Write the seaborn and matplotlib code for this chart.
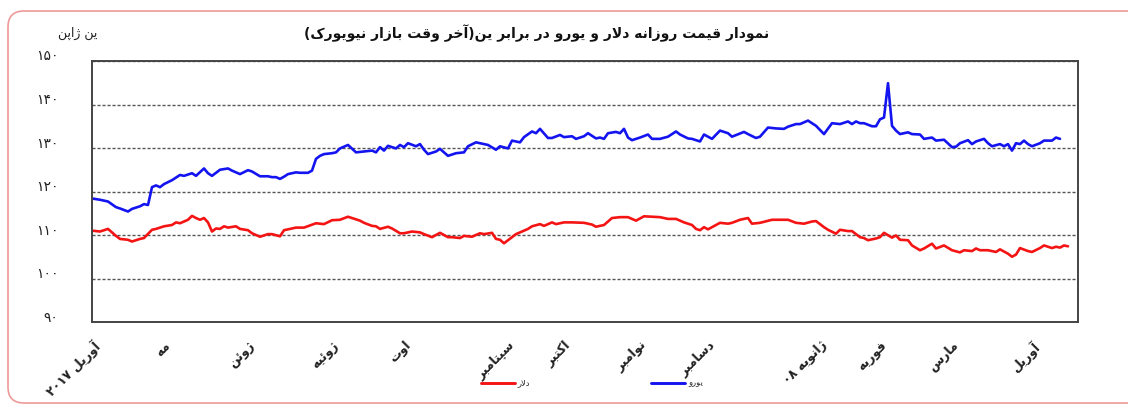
import numpy as np
import pandas as pd
import matplotlib
matplotlib.use("Agg")
import matplotlib.pyplot as plt
import seaborn as sns
from matplotlib.patches import FancyBboxPatch
from matplotlib.lines import Line2D
from matplotlib.transforms import ScaledTranslation

# ---------------- data ----------------
TITLE = "نمودار قیمت روزانه دلار و یورو در برابر ین(آخر وقت بازار نیویورک)"
Y_UNIT = "ین ژاپن"
SERIES = ["دلار", "یورو"]
MONTH_LABELS = ["آوریل ۲۰۱۷", "مه", "ژوئن", "ژوئیه", "اوت", "سپتامبر", "اکتبر",
                "نوامبر", "دسامبر", "ژانویه ۰۸", "فوریه", "مارس", "آوریل"]
MONTH_POS = [0, 18, 39, 60, 78, 104, 118, 137, 154, 182, 197, 215, 235]
Y_TICKS = [90, 100, 110, 120, 130, 140, 150]
Y_TICK_LABELS = ["۹۰", "۱۰۰", "۱۱۰", "۱۲۰", "۱۳۰", "۱۴۰", "۱۵۰"]

usd_day = [0, 2, 4, 6, 7, 9, 10, 12, 13, 15, 16, 18, 20, 21, 22, 24, 25, 26, 27, 28,
           29, 30, 31, 32, 33, 34, 36, 37, 39, 40, 42, 44, 45, 47, 48, 51, 53, 56, 58, 60,
           62, 64, 65, 67, 68, 70, 71, 72, 74, 75, 77, 78, 80, 82, 83, 85, 87, 89, 90, 92,
           93, 95, 97, 98, 100, 101, 102, 103, 105, 106, 107, 109, 110, 112, 113, 115, 116, 118, 120, 123,
           125, 126, 128, 129, 130, 132, 134, 136, 138, 140, 142, 144, 146, 148, 150, 151, 152, 153, 154, 156,
           157, 159, 160, 162, 164, 165, 167, 170, 172, 174, 176, 178, 180, 181, 183, 184, 186, 187, 189, 190,
           192, 193, 194, 196, 197, 198, 200, 201, 202, 204, 205, 207, 208, 210, 211, 213, 215, 217, 218, 220,
           221, 222, 224, 226, 227, 229, 230, 231, 232, 234, 235, 237, 238, 240, 241, 242, 243, 244]
usd_val = [111.0, 110.8, 111.4, 109.8, 109.1, 108.9, 108.5, 109.1, 109.3, 111.2, 111.4, 112.0, 112.3, 112.9, 112.7, 113.5, 114.4, 113.9, 113.5, 113.9,
           112.9, 110.8, 111.5, 111.4, 112.0, 111.7, 112.0, 111.4, 111.1, 110.4, 109.6, 110.2, 110.2, 109.7, 111.1, 111.7, 111.7, 112.7, 112.5, 113.4,
           113.5, 114.2, 113.9, 113.3, 112.8, 112.1, 112.0, 111.4, 111.9, 111.5, 110.4, 110.4, 110.8, 110.6, 110.2, 109.5, 110.5, 109.5, 109.5, 109.3,
           109.8, 109.6, 110.4, 110.2, 110.5, 109.1, 108.9, 108.1, 109.5, 110.2, 110.6, 111.4, 112.0, 112.5, 112.1, 112.9, 112.5, 112.9, 112.9, 112.8,
           112.4, 111.9, 112.3, 113.1, 113.9, 114.1, 114.1, 113.3, 114.3, 114.2, 114.1, 113.7, 113.7, 112.9, 112.3, 111.4, 111.1, 111.8, 111.3, 112.3,
           112.8, 112.6, 112.8, 113.5, 113.9, 112.6, 112.8, 113.5, 113.5, 113.5, 112.8, 112.6, 113.1, 113.2, 111.8, 111.2, 110.3, 111.2, 110.9, 110.9,
           109.5, 109.3, 108.8, 109.2, 109.5, 110.5, 109.4, 109.9, 108.9, 108.8, 107.6, 106.5, 106.9, 108.0, 106.9, 107.6, 106.5, 106.0, 106.5, 106.3,
           106.9, 106.5, 106.5, 106.1, 106.7, 105.7, 105.0, 105.5, 107.0, 106.3, 106.1, 107.0, 107.6, 107.0, 107.3, 107.1, 107.6, 107.4]

eur_day = [0, 2, 4, 6, 7, 9, 10, 12, 13, 14, 15, 16, 17, 18, 20, 22, 23, 25, 26, 28,
           29, 30, 32, 34, 35, 37, 39, 40, 42, 44, 45, 46, 47, 48, 49, 51, 52, 54, 55, 56,
           57, 58, 60, 61, 62, 64, 66, 68, 70, 71, 72, 73, 74, 76, 77, 78, 79, 81, 82, 83,
           84, 86, 87, 89, 91, 93, 94, 96, 97, 99, 101, 102, 104, 105, 107, 108, 110, 111, 112, 114,
           115, 117, 118, 120, 121, 123, 124, 126, 127, 128, 129, 131, 132, 133, 134, 135, 137, 139, 140, 142,
           144, 146, 147, 149, 150, 152, 153, 155, 157, 159, 160, 163, 164, 166, 167, 169, 171, 173, 174, 176,
           177, 179, 181, 183, 185, 187, 189, 190, 191, 192, 193, 195, 196, 197, 198, 199, 200, 201, 202, 204,
           205, 207, 208, 210, 211, 213, 215, 216, 217, 219, 220, 221, 223, 224, 225, 227, 228, 229, 230, 231,
           232, 233, 234, 235, 237, 238, 240, 241, 242]
eur_val = [118.4, 118.1, 117.7, 116.4, 116.1, 115.4, 116.0, 116.6, 117.1, 116.9, 121.0, 121.4, 121.0, 121.7, 122.6, 123.8, 123.6, 124.2, 123.6, 125.3,
           124.2, 123.6, 125.0, 125.3, 124.8, 124.0, 124.9, 124.6, 123.5, 123.5, 123.3, 123.3, 122.9, 123.4, 124.0, 124.4, 124.3, 124.3, 124.8, 127.5,
           128.2, 128.6, 128.8, 129.0, 129.9, 130.7, 129.0, 129.2, 129.4, 129.0, 130.2, 129.4, 130.5, 129.9, 130.7, 130.2, 131.1, 130.4, 130.9, 129.6,
           128.6, 129.2, 129.8, 128.2, 128.8, 129.0, 130.4, 131.3, 131.1, 130.7, 129.6, 130.4, 129.9, 131.7, 131.3, 132.5, 133.8, 133.4, 134.4, 132.3,
           132.3, 133.0, 132.5, 132.7, 132.1, 132.7, 133.4, 132.2, 132.4, 132.1, 133.4, 133.7, 133.4, 134.4, 132.4, 131.8, 132.4, 133.1, 132.1, 132.1,
           132.6, 133.8, 133.1, 132.2, 132.1, 131.5, 133.1, 132.1, 134.0, 133.4, 132.6, 133.7, 133.2, 132.3, 132.6, 134.7, 134.5, 134.4, 134.9, 135.5,
           135.5, 136.3, 135.1, 133.2, 135.7, 135.5, 136.1, 135.5, 136.1, 135.7, 135.7, 135.0, 135.0, 136.6, 137.0, 144.9, 135.1, 134.0, 133.2, 133.6,
           133.2, 133.1, 132.1, 132.4, 131.7, 131.9, 130.2, 130.3, 131.1, 131.8, 130.9, 131.5, 132.1, 131.1, 130.4, 130.9, 130.4, 130.9, 129.4, 131.1,
           130.9, 131.7, 130.9, 130.4, 131.1, 131.7, 131.7, 132.4, 132.1]

COLORS = {"دلار": "#f41414", "یورو": "#1414f0"}

# ---------------- Persian shaping helpers (no shaping engine in matplotlib) ----------------
_F = {
    "ء": (0xFE80, 0xFE80, None, None), "آ": (0xFE81, 0xFE82, None, None),
    "أ": (0xFE83, 0xFE84, None, None), "ؤ": (0xFE85, 0xFE86, None, None),
    "إ": (0xFE87, 0xFE88, None, None), "ئ": (0xFE89, 0xFE8A, 0xFE8B, 0xFE8C),
    "ا": (0xFE8D, 0xFE8E, None, None), "ب": (0xFE8F, 0xFE90, 0xFE91, 0xFE92),
    "ة": (0xFE93, 0xFE94, None, None), "ت": (0xFE95, 0xFE96, 0xFE97, 0xFE98),
    "ث": (0xFE99, 0xFE9A, 0xFE9B, 0xFE9C), "ج": (0xFE9D, 0xFE9E, 0xFE9F, 0xFEA0),
    "ح": (0xFEA1, 0xFEA2, 0xFEA3, 0xFEA4), "خ": (0xFEA5, 0xFEA6, 0xFEA7, 0xFEA8),
    "د": (0xFEA9, 0xFEAA, None, None), "ذ": (0xFEAB, 0xFEAC, None, None),
    "ر": (0xFEAD, 0xFEAE, None, None), "ز": (0xFEAF, 0xFEB0, None, None),
    "س": (0xFEB1, 0xFEB2, 0xFEB3, 0xFEB4), "ش": (0xFEB5, 0xFEB6, 0xFEB7, 0xFEB8),
    "ص": (0xFEB9, 0xFEBA, 0xFEBB, 0xFEBC), "ض": (0xFEBD, 0xFEBE, 0xFEBF, 0xFEC0),
    "ط": (0xFEC1, 0xFEC2, 0xFEC3, 0xFEC4), "ظ": (0xFEC5, 0xFEC6, 0xFEC7, 0xFEC8),
    "ع": (0xFEC9, 0xFECA, 0xFECB, 0xFECC), "غ": (0xFECD, 0xFECE, 0xFECF, 0xFED0),
    "ف": (0xFED1, 0xFED2, 0xFED3, 0xFED4), "ق": (0xFED5, 0xFED6, 0xFED7, 0xFED8),
    "ك": (0xFED9, 0xFEDA, 0xFEDB, 0xFEDC), "ل": (0xFEDD, 0xFEDE, 0xFEDF, 0xFEE0),
    "م": (0xFEE1, 0xFEE2, 0xFEE3, 0xFEE4), "ن": (0xFEE5, 0xFEE6, 0xFEE7, 0xFEE8),
    "ه": (0xFEE9, 0xFEEA, 0xFEEB, 0xFEEC), "و": (0xFEED, 0xFEEE, None, None),
    "ى": (0xFEEF, 0xFEF0, None, None), "ي": (0xFEF1, 0xFEF2, 0xFEF3, 0xFEF4),
    "پ": (0xFB56, 0xFB57, 0xFB58, 0xFB59), "چ": (0xFB7A, 0xFB7B, 0xFB7C, 0xFB7D),
    "ژ": (0xFB8A, 0xFB8B, None, None), "ک": (0xFB8E, 0xFB8F, 0xFB90, 0xFB91),
    "گ": (0xFB92, 0xFB93, 0xFB94, 0xFB95), "ی": (0xFBFC, 0xFBFD, 0xFBFE, 0xFBFF),
}
_LAM_ALEF = {"ا": (0xFEFB, 0xFEFC), "آ": (0xFEF5, 0xFEF6),
             "أ": (0xFEF7, 0xFEF8), "إ": (0xFEF9, 0xFEFA)}
_DIGITS = set("0123456789۰۱۲۳۴۵۶۷۸۹٠١٢٣٤٥٦٧٨٩")
_MIRROR = {"(": ")", ")": "(", "[": "]", "]": "["}


def _dual(c):
    return c in _F and _F[c][2] is not None


def fa(text):
    """Contextual shaping + simple RTL reordering for display."""
    s = text
    out = []
    i = 0
    while i < len(s):
        c = s[i]
        if c not in _F:
            out.append(c)
            i += 1
            continue
        prev = s[i - 1] if i > 0 else ""
        nxt = s[i + 1] if i + 1 < len(s) else ""
        jp = _dual(prev)
        if c == "ل" and nxt in _LAM_ALEF:
            out.append(chr(_LAM_ALEF[nxt][1 if jp else 0]))
            i += 2
            continue
        jn = _dual(c) and nxt in _F
        iso, fin, ini, med = _F[c]
        if jp and jn:
            g = med
        elif jp:
            g = fin
        elif jn:
            g = ini
        else:
            g = iso
        out.append(chr(g))
        i += 1
    runs = []
    for ch in out:
        isd = ch in _DIGITS
        if runs and runs[-1][0] == isd:
            runs[-1][1].append(ch)
        else:
            runs.append([isd, [ch]])
    vis = []
    for isd, chars in reversed(runs):
        if isd:
            vis.extend(chars)
        else:
            vis.extend(_MIRROR.get(ch, ch) for ch in reversed(chars))
    return "".join(vis)


# ---------------- plot ----------------
sns.set_style("white")
plt.rcParams["font.family"] = ["DejaVu Sans"]

df = pd.concat([
    pd.DataFrame({"day": usd_day, "rate": usd_val, "series": SERIES[0]}),
    pd.DataFrame({"day": eur_day, "rate": eur_val, "series": SERIES[1]}),
], ignore_index=True)

W, H = 1128, 407
fig = plt.figure(figsize=(W / 100, H / 100), dpi=100)
fig.patch.set_facecolor("white")

frame = FancyBboxPatch((0.08, 0.04), 11.6, 3.92,
                       boxstyle="round,pad=0,rounding_size=0.16",
                       transform=fig.dpi_scale_trans, fill=False,
                       edgecolor="#ee9a9a", linewidth=1.2, zorder=0)
fig.patches.append(frame)

ax = fig.add_axes([92 / W, 85 / H, 986 / W, 261 / H])
sns.lineplot(data=df, x="day", y="rate", hue="series", palette=COLORS,
             estimator=None, sort=False, linewidth=1.9, legend=False, ax=ax)

ax.set_xlim(0, 246.5)
ax.set_ylim(90, 150)
ax.set_xlabel("")
ax.set_ylabel("")

ax.set_yticks(Y_TICKS)
ax.set_yticklabels([fa(t) for t in Y_TICK_LABELS], fontsize=10, color="#222222")
ax.tick_params(axis="y", length=0, pad=24)
for lbl in ax.get_yticklabels():
    lbl.set_transform(lbl.get_transform() + ScaledTranslation(0, 6 / 100, fig.dpi_scale_trans))

ax.set_xticks(MONTH_POS)
ax.set_xticklabels([fa(t) for t in MONTH_LABELS], rotation=45, ha="right", va="top",
                   rotation_mode="anchor", fontsize=9, fontweight="bold", color="#222222")
ax.tick_params(axis="x", length=0, pad=12)

ax.grid(axis="y", color="#555555", linestyle=(0, (2.2, 1.4)), linewidth=1.0)
ax.grid(axis="x", visible=False)
ax.set_axisbelow(True)
for sp in ax.spines.values():
    sp.set_visible(True)
    sp.set_color("#444444")
    sp.set_linewidth(1.4)

fig.text(537 / W, 1 - 33 / H, fa(TITLE), ha="center", va="center",
         fontsize=10, fontweight="bold", color="#111111")
fig.text(78 / W, 1 - 33 / H, fa(Y_UNIT), ha="center", va="center",
         fontsize=9, color="#222222")

handles = [Line2D([], [], color=COLORS[s], linewidth=2.1) for s in SERIES]
fig.legend(handles, [fa(s) for s in SERIES], loc="center", bbox_to_anchor=(592 / W, 1 - 383 / H),
           ncol=2, frameon=False, fontsize=6, handlelength=4.0, handletextpad=0.4,
           columnspacing=14.5)

fig.savefig("out.png", dpi=100, facecolor="white")
